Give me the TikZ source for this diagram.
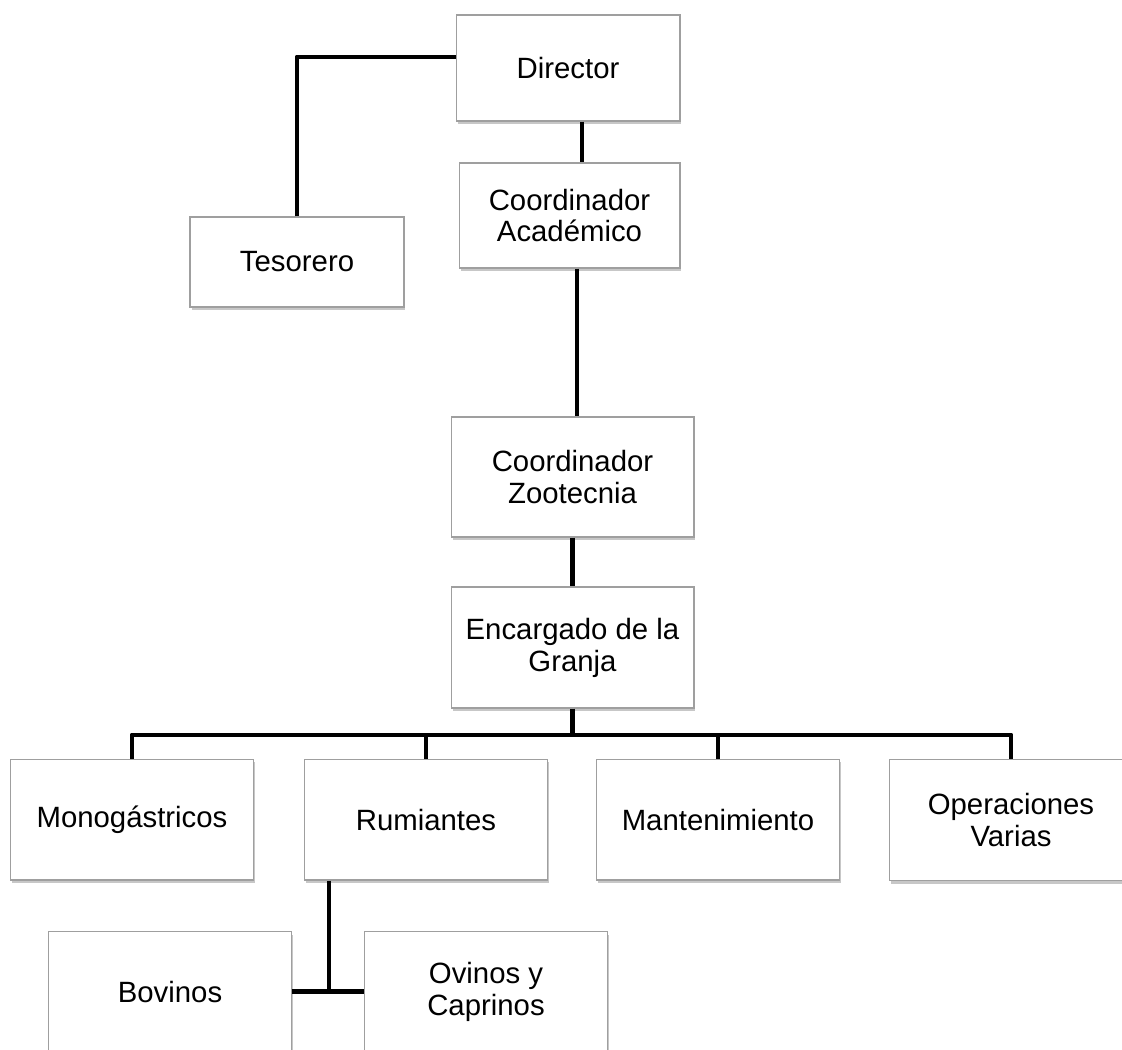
\documentclass[tikz,border=0pt]{standalone}
\usepackage{fontspec}
\setmainfont{Liberation Sans}
\usetikzlibrary{shadows}

\begin{document}
\begin{tikzpicture}[x=0.02cm,y=-0.02cm,
  caja/.style={draw=gray!75,line width=0.6pt,fill=white,align=center,inner sep=0pt,
    minimum width=4.86cm,minimum height=2.42cm,
    font=\fontsize{16.7}{18.2}\selectfont,
    drop shadow={shadow xshift=0.03cm,shadow yshift=-0.06cm,fill=black,opacity=0.22}},
  linea/.style={line width=2.8pt,line join=round}]
\useasboundingbox (0,0) rectangle (1122,1049);
\clip (0,0) rectangle (1122,1049);
% cajas
\node[caja,minimum width=4.48cm,minimum height=2.12cm] (dir) at (568,68) {Director};
\node[caja,minimum width=4.42cm,minimum height=2.1cm] (acad) at (569.5,215.5) {Coordinador\\Académico};
\node[caja,minimum width=4.28cm,minimum height=1.8cm] (tes) at (297,262) {Tesorero};
\node[caja,minimum height=2.4cm] (zoo) at (572.5,477) {Coordinador\\Zootecnia};
\node[caja] (enc) at (572.5,647.5) {Encargado de la\\Granja};
\node[caja] (mono) at (132,819.5) {Monogástricos};
\node[caja] (rumi) at (426,819.5) {Rumiantes};
\node[caja] (mant) at (718,819.5) {Mantenimiento};
\node[caja] (oper) at (1011,820) {Operaciones\\Varias};
\node[caja,minimum height=2.4cm] (bov) at (170,991.5) {Bovinos};
\node[caja,minimum height=2.4cm] (ovi) at (486,991.5) {Ovinos y\\Caprinos};
% lineas
\coordinate (bus) at (0,735);
\coordinate (rama) at (329,991.5);
\draw[linea] (tes.north) |- ([yshift=0.22cm]dir.west);
\draw[linea] ([xshift=0.28cm]dir.south) -- ([xshift=0.28cm]dir.south |- acad.north);
\draw[linea] ([xshift=0.15cm]acad.south) -- ([xshift=0.15cm]acad.south |- zoo.north);
\draw[linea] (zoo.south) -- (enc.north);
\draw[linea] (enc.south) -- (enc.south |- bus);
\draw[linea] (mono.north) -- (mono.north |- bus) -- (oper.north |- bus) -- (oper.north);
\foreach \n in {rumi,mant} {\draw[linea] (\n.north) -- (\n.north |- bus);}
\draw[linea] (rumi.south -| rama) -- (rama);
\draw[linea] (bov.east) -- (ovi.west);
\end{tikzpicture}
\end{document}
